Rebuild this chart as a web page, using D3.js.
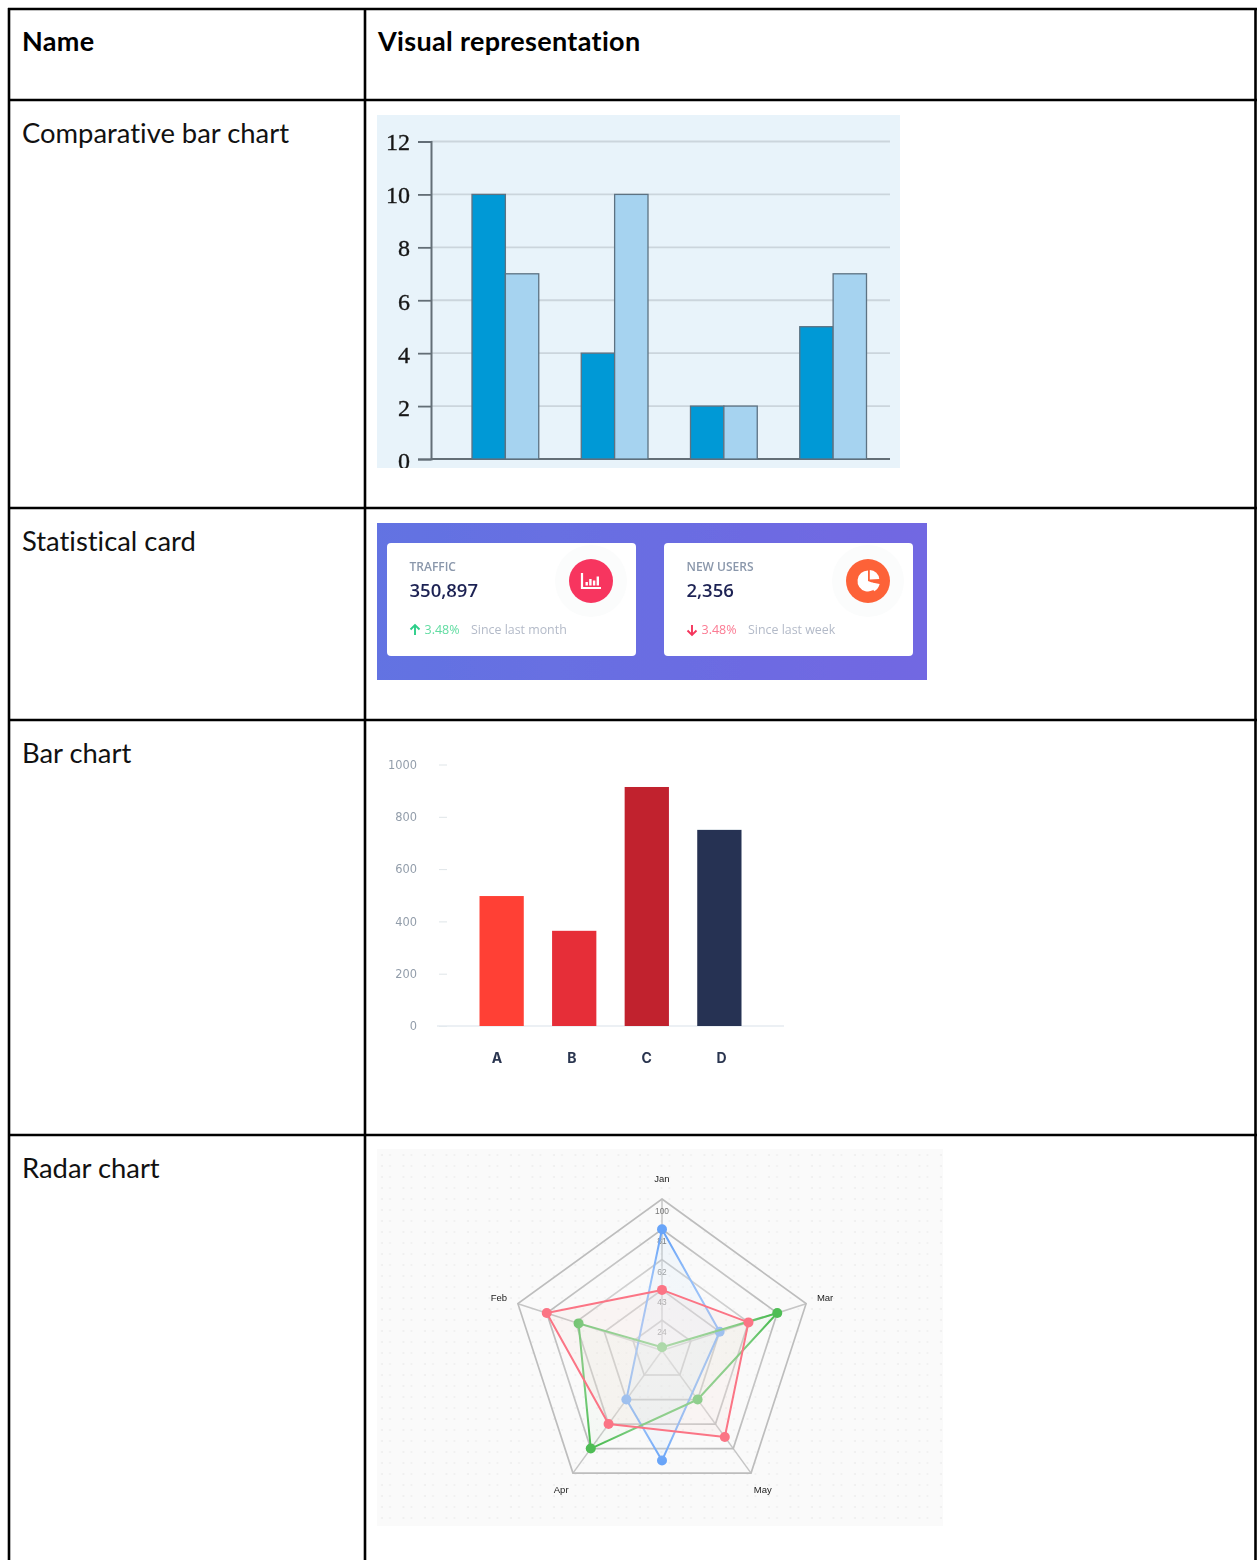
<!DOCTYPE html>
<html>
<head>
<meta charset="utf-8">
<title>Chart types</title>
<script src="https://cdnjs.cloudflare.com/ajax/libs/d3/7.8.5/d3.min.js"></script>
<style>
html,body{margin:0;padding:0;background:#fff}
svg{display:block}
</style>
</head>
<body>
<div id="chart"></div>
<script>
// Table contents
const tableHeaders = ["Name", "Visual representation"];
const rowNames = ["Comparative bar chart", "Statistical card", "Bar chart", "Radar chart"];

// Comparative bar chart
const compGroups = ["g1", "g2", "g3", "g4"];
const compFirst = [10, 4, 2, 5];
const compSecond = [7, 10, 2, 7];
const compTicks = [0, 2, 4, 6, 8, 10, 12];

// Statistical cards
const cardTitles = ["TRAFFIC", "NEW USERS"];
const cardValues = ["350,897", "2,356"];
const cardChanges = ["3.48%", "3.48%"];
const cardPeriods = ["Since last month", "Since last week"];

// Single-series bar chart
const barCategories = ["A", "B", "C", "D"];
const barValues = [497, 364, 914, 750];
const barColors = ["#ff4136", "#e62e38", "#c1202f", "#263252"];
const barTicks = [0, 200, 400, 600, 800, 1000];

// Radar chart
const radarAxes = ["Jan", "Mar", "May", "Apr", "Feb"];
const radarTicks = [24, 43, 62, 81, 100];
const radarRed = [43, 62, 72, 62, 81];
const radarGreen = [7, 81, 43, 81, 60];
const radarBlue = [81, 43, 74, 43];
// Spoke index of each blue vertex; the third vertex falls midway between May and Apr
const radarBlueSpokes = [0, 1, 2.5, 3];

const W = 1257, H = 1560;
const svg = d3.select("#chart").append("svg").attr("width", W).attr("height", H);
const defs = svg.append("defs");
svg.append("rect").attr("width", W).attr("height", H).attr("fill", "#fff");

defs.append("filter").attr("id", "soft")
  .attr("filterUnits", "userSpaceOnUse").attr("x", 0).attr("y", 0).attr("width", W).attr("height", H)
  .append("feGaussianBlur").attr("stdDeviation", 0.6);

function panel(id, x, y, w, h) {
  defs.append("clipPath").attr("id", id).append("rect").attr("x", x).attr("y", y).attr("width", w).attr("height", h);
  return svg.append("g").attr("clip-path", `url(#${id})`).append("g").attr("filter", "url(#soft)");
}

/* ---------- Table frame and text ---------- */
const ruleYs = [9, 100, 508, 720, 1135];
const ruleXs = [9, 365, 1255.5];
const frame = svg.append("g").attr("stroke", "#000").attr("stroke-width", 2.6);
ruleYs.forEach(y => frame.append("line").attr("x1", 8).attr("x2", 1257).attr("y1", y).attr("y2", y));
ruleXs.forEach(x => frame.append("line").attr("x1", x).attr("x2", x).attr("y1", 8).attr("y2", H));

const tableFont = "Lato, 'Open Sans', sans-serif";
tableHeaders.forEach((t, i) => {
  svg.append("text").attr("x", i ? 378 : 22).attr("y", 51)
    .attr("font-family", tableFont).attr("font-size", 27).attr("font-weight", 700)
    .style("font-variant-ligatures", "none").attr("letter-spacing", 0.32).attr("fill", "#000").text(t);
});
rowNames.forEach((t, i) => {
  svg.append("text").attr("x", 22).attr("y", ruleYs[i + 1] + 43)
    .attr("font-family", tableFont).attr("font-size", 27.4)
    .style("font-variant-ligatures", "none").attr("fill", "#111").text(t);
});

/* ---------- Comparative bar chart ---------- */
{
  const g = panel("clip-comp", 377, 115, 523, 353);
  g.append("rect").attr("x", 370).attr("y", 108).attr("width", 537).attr("height", 367).attr("fill", "#e8f3fa");
  const y = d3.scaleLinear().domain([0, 12]).range([459, 141.5]);
  const x0 = d3.scaleBand().domain(compGroups).range([472, 866.5]).paddingInner(0.389).paddingOuter(0);
  const x1 = d3.scaleBand().domain([0, 1]).range([0, x0.bandwidth()]);
  // Tick labels drift slightly below their ticks toward the bottom of the axis
  const labelDrop = d3.scaleLinear().domain([0, 12]).range([2.3, 0]);

  g.selectAll("line.grid").data(compTicks.slice(1)).join("line").attr("class", "grid")
    .attr("x1", 431).attr("x2", 890).attr("y1", y).attr("y2", y)
    .attr("stroke", "#cbd5dc").attr("stroke-width", 1.9);

  const axis = g.append("g").attr("transform", "translate(431,0)")
    .call(d3.axisLeft(y).tickValues(compTicks).tickSize(13).tickPadding(8));
  axis.select(".domain").attr("stroke", "#636e76").attr("stroke-width", 2);
  axis.selectAll(".tick line").attr("stroke", "#636e76").attr("stroke-width", 1.8);
  axis.selectAll("text").attr("font-family", "'Liberation Serif', serif").attr("font-size", 24)
    .attr("fill", "#161616").attr("stroke", "#161616").attr("stroke-width", 0.35)
    .attr("dy", "0.32em").attr("y", d => labelDrop(d));

  g.append("line").attr("x1", 431).attr("x2", 890).attr("y1", y(0)).attr("y2", y(0))
    .attr("stroke", "#636e76").attr("stroke-width", 2);

  [[compFirst, "#0099d6"], [compSecond, "#a6d3f0"]].forEach(([vals, fill], s) => {
    g.selectAll(`rect.s${s}`).data(vals).join("rect").attr("class", `s${s}`)
      .attr("x", (d, i) => x0(compGroups[i]) + x1(s))
      .attr("width", x1.bandwidth())
      .attr("y", d => y(d)).attr("height", d => y(0) - y(d))
      .attr("fill", fill).attr("stroke", "#5d7282").attr("stroke-width", 1.3);
  });
}

/* ---------- Statistical cards ---------- */
{
  const grad = defs.append("linearGradient").attr("id", "cardBg");
  grad.append("stop").attr("offset", 0).attr("stop-color", "#6273e2");
  grad.append("stop").attr("offset", 1).attr("stop-color", "#7267e2");
  const g = panel("clip-card", 377, 523, 550, 157);
  g.append("rect").attr("x", 370).attr("y", 516).attr("width", 564).attr("height", 171).attr("fill", "url(#cardBg)");

  const cardX = d3.scalePoint().domain(cardTitles).range([387, 664]);
  const font = "'Open Sans', 'Noto Sans', sans-serif";
  const badge = ["#f7355f", "#fd6239"];
  const changeCol = ["#62dca2", "#fb7a92"];
  const arrowCol = ["#2dce89", "#f5365c"];

  cardTitles.forEach((title, i) => {
    const x = cardX(title);
    const c = g.append("g").attr("transform", `translate(${x},0)`);
    c.append("rect").attr("y", 543).attr("width", 249).attr("height", 113).attr("rx", 4).attr("fill", "#fff");
    c.append("circle").attr("cx", 204).attr("cy", 581).attr("r", 36).attr("fill", "#fbfcfc");
    c.append("circle").attr("cx", 204).attr("cy", 581).attr("r", 22).attr("fill", badge[i]);

    c.append("text").attr("x", 22.5).attr("y", 571).attr("font-family", font).attr("font-size", 12)
      .attr("font-weight", 600).attr("fill", "#8a97ab").text(title);
    c.append("text").attr("x", 22.5).attr("y", 597).attr("font-family", font).attr("font-size", 18.5)
      .attr("font-weight", 600).attr("fill", "#1f2454").text(cardValues[i]);
    c.append("text").attr("x", 37.5).attr("y", 634).attr("font-family", font).attr("font-size", 12.5)
      .attr("fill", changeCol[i]).text(cardChanges[i]);
    c.append("text").attr("x", 84).attr("y", 634).attr("font-family", font).attr("font-size", 12.4)
      .attr("fill", "#b3bac8").text(cardPeriods[i]);

    // Direction arrow
    const dir = i === 0 ? -1 : 1;
    c.append("path")
      .attr("d", `M28,${630 - dir * 5}V${630 + dir * 5}M23.5,${630 + dir * 0.5}L28,${630 + dir * 5}L32.5,${630 + dir * 0.5}`)
      .attr("fill", "none").attr("stroke", arrowCol[i]).attr("stroke-width", 1.9);

    const icon = c.append("g").attr("transform", "translate(204,581)");
    if (i === 0) {
      icon.append("path").attr("d", "M-9,-8V7H10").attr("fill", "none").attr("stroke", "#fff").attr("stroke-width", 2.2);
      [[-5.5, 3.5], [-1.8, 6.5], [1.9, 5], [5.6, 9]].forEach(([bx, bh]) => {
        icon.append("rect").attr("x", bx).attr("y", 4.5 - bh).attr("width", 2.4).attr("height", bh).attr("fill", "#fff");
      });
    } else {
      const arc = d3.arc();
      icon.append("path").attr("fill", "#fff").attr("d", arc({ innerRadius: 0, outerRadius: 10.5, startAngle: Math.PI * 0.62, endAngle: Math.PI * 2 }));
      icon.append("path").attr("fill", "#fff").attr("transform", "translate(1.8,-1.4)")
        .attr("d", arc({ innerRadius: 0, outerRadius: 9.5, startAngle: 0, endAngle: Math.PI * 0.48 }));
      icon.append("path").attr("fill", "#fff").attr("transform", "translate(1.8,1.2)")
        .attr("d", arc({ innerRadius: 2, outerRadius: 10, startAngle: Math.PI * 0.56, endAngle: Math.PI * 0.86 }));
    }
  });
}

/* ---------- Single-series bar chart ---------- */
{
  const g = svg.append("g").attr("filter", "url(#soft)");
  const y = d3.scaleLinear().domain([0, 1000]).range([1026, 764.5]);
  const x = d3.scaleBand().domain(barCategories).range([479.5, 741.5]).paddingInner(0.39).paddingOuter(0);
  const labelX = d3.scalePoint().domain(barCategories).range([497, 721.5]);

  const axis = g.append("g").attr("transform", "translate(447,0)")
    .call(d3.axisLeft(y).tickValues(barTicks).tickFormat(d3.format("d")).tickSize(8).tickPadding(22));
  axis.select(".domain").remove();
  axis.selectAll(".tick line").attr("stroke", "#dfe5e8");
  axis.selectAll("text").attr("font-family", "'DejaVu Sans', sans-serif").attr("font-size", 11.4).attr("fill", "#929daa");

  g.append("line").attr("x1", 437).attr("x2", 784).attr("y1", y(0)).attr("y2", y(0))
    .attr("stroke", "#e6ebf1").attr("stroke-width", 1.5);

  g.selectAll("rect.bar").data(barValues).join("rect").attr("class", "bar")
    .attr("x", (d, i) => x(barCategories[i])).attr("width", x.bandwidth())
    .attr("y", d => y(d)).attr("height", d => y(0) - y(d))
    .attr("fill", (d, i) => barColors[i]);

  g.selectAll("text.cat").data(barCategories).join("text").attr("class", "cat")
    .attr("x", d => labelX(d)).attr("y", 1063).attr("text-anchor", "middle")
    .attr("font-family", "Inter, sans-serif").attr("font-size", 14).attr("font-weight", 700)
    .attr("fill", "#2a3550").text(d => d);
}

/* ---------- Radar chart ---------- */
{
  const pat = defs.append("pattern").attr("id", "dots").attr("patternUnits", "userSpaceOnUse")
    .attr("x", 378).attr("y", 1150).attr("width", 21.5).attr("height", 11);
  pat.append("circle").attr("cx", 4).attr("cy", 5).attr("r", 1.1).attr("fill", "#eeeeee");
  pat.append("circle").attr("cx", 12).attr("cy", 5).attr("r", 1).attr("fill", "#f0f0f0");

  const g = panel("clip-radar", 377, 1149, 566, 377);
  g.append("rect").attr("x", 370).attr("y", 1142).attr("width", 580).attr("height", 391).attr("fill", "#fafafa");
  g.append("rect").attr("x", 370).attr("y", 1142).attr("width", 580).attr("height", 391).attr("fill", "url(#dots)");

  const cx = 662, cy = 1350.5, R = 151.5;
  const r = d3.scaleLinear().domain([5, 100]).range([0, R]);
  const angle = s => s * 2 * Math.PI / radarAxes.length;
  const pt = (s, v) => d3.pointRadial(angle(s), r(v));
  const root = g.append("g").attr("transform", `translate(${cx},${cy})`);
  const closed = d3.line().curve(d3.curveLinearClosed);

  // Spokes and rings
  radarAxes.forEach((a, s) => {
    const [px, py] = pt(s, 100);
    root.append("line").attr("x2", px).attr("y2", py).attr("stroke", "#c6c6c6").attr("stroke-width", 1.5);
    const [lx, ly] = d3.pointRadial(angle(s), R + 20);
    g.append("text").attr("x", cx + lx).attr("y", cy + ly + 3.4).attr("text-anchor", "middle")
      .attr("font-family", "'Liberation Sans', sans-serif").attr("font-size", 9.5).attr("fill", "#222").text(a);
  });
  radarTicks.forEach(t => {
    root.append("path").attr("d", closed(radarAxes.map((a, s) => pt(s, t))))
      .attr("fill", "none").attr("stroke", "#bdbdbd").attr("stroke-width", 1.7);
    root.append("text").attr("x", 0).attr("y", -r(t) + 15).attr("text-anchor", "middle")
      .attr("font-family", "'Liberation Sans', sans-serif").attr("font-size", 8.4).attr("fill", "#777").text(t);
  });

  function series(pts, stroke, fill, op) {
    root.append("path").attr("d", closed(pts)).attr("fill", fill).attr("fill-opacity", op)
      .attr("stroke", stroke).attr("stroke-width", 2).attr("stroke-linejoin", "round");
    root.selectAll(null).data(pts).join("circle")
      .attr("cx", d => d[0]).attr("cy", d => d[1]).attr("r", 5).attr("fill", stroke);
  }

  series(radarBlue.map((v, i) => pt(radarBlueSpokes[i], v)), "#68a4f8", "#68b4f8", 0.07);
  series(radarGreen.map((v, i) => pt(i, v)), "#4fbd55", "#4fbd55", 0.035);

  // The inner area of the plot fades toward the centre
  const fade = defs.append("radialGradient").attr("id", "centerFade");
  fade.append("stop").attr("offset", 0).attr("stop-color", "#fafafa").attr("stop-opacity", 0.55);
  fade.append("stop").attr("offset", 0.7).attr("stop-color", "#fafafa").attr("stop-opacity", 0.3);
  fade.append("stop").attr("offset", 1).attr("stop-color", "#fafafa").attr("stop-opacity", 0);
  root.append("circle").attr("r", 112).attr("fill", "url(#centerFade)");

  series(radarRed.map((v, i) => pt(i, v)), "#fb7485", "#f0906c", 0.05);
}
</script>
</body>
</html>
